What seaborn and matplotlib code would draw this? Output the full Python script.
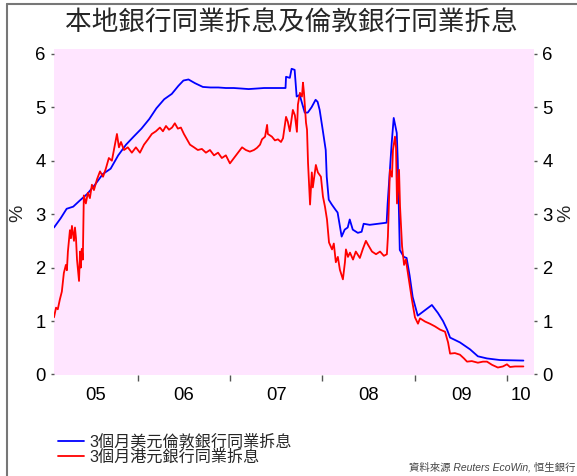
import pandas as pd
import matplotlib
matplotlib.use("Agg")
import matplotlib.pyplot as plt
import matplotlib.dates as mdates
from matplotlib.lines import Line2D
from matplotlib.ticker import FixedLocator, FixedFormatter, NullFormatter
import seaborn as sns

# 3-month USD LIBOR (%)
usd_dates = [
    "2005-02-03", "2005-03-01", "2005-03-25", "2005-04-20", "2005-05-15", "2005-06-15",
    "2005-07-15", "2005-08-15", "2005-09-15", "2005-10-15", "2005-11-15", "2005-12-15",
    "2006-01-15", "2006-02-15", "2006-03-15", "2006-04-15", "2006-05-15", "2006-06-10",
    "2006-06-30", "2006-07-20", "2006-08-15", "2006-09-15", "2006-10-15", "2006-11-15",
    "2006-12-15", "2007-01-15", "2007-02-15", "2007-03-15", "2007-04-15", "2007-05-15",
    "2007-06-15", "2007-07-15", "2007-08-08", "2007-08-10", "2007-08-25", "2007-09-01",
    "2007-09-13", "2007-09-21", "2007-10-03", "2007-10-23", "2007-11-04", "2007-11-19",
    "2007-12-05", "2007-12-13", "2007-12-21", "2008-01-02", "2008-01-14", "2008-01-18",
    "2008-01-26", "2008-02-07", "2008-02-22", "2008-03-01", "2008-03-17", "2008-03-29",
    "2008-04-10", "2008-04-18", "2008-04-30", "2008-05-20", "2008-06-04", "2008-06-12",
    "2008-07-06", "2008-09-11", "2008-09-15", "2008-10-01", "2008-10-09", "2008-10-21",
    "2008-10-25", "2008-11-02", "2008-11-18", "2008-11-29", "2008-12-11", "2008-12-23",
    "2009-01-12", "2009-02-09", "2009-03-09", "2009-04-02", "2009-04-22", "2009-05-08",
    "2009-05-20", "2009-06-28", "2009-08-07", "2009-09-07", "2009-10-13", "2009-12-03",
    "2010-03-06",
]
usd_rates = [
    2.75, 2.92, 3.10, 3.14, 3.25, 3.38,
    3.55, 3.75, 3.85, 4.10, 4.30, 4.45,
    4.60, 4.78, 4.98, 5.15, 5.25, 5.40,
    5.50, 5.52, 5.45, 5.38, 5.37, 5.37,
    5.36, 5.36, 5.35, 5.34, 5.35, 5.36,
    5.36, 5.36, 5.36, 5.57, 5.55, 5.72,
    5.70, 5.20, 5.23, 4.90, 4.90, 5.00,
    5.14, 5.10, 4.95, 4.58, 4.20, 3.70,
    3.27, 3.18, 3.08, 3.03, 2.58, 2.71,
    2.75, 2.90, 2.71, 2.65, 2.67, 2.82,
    2.80, 2.84, 3.20, 4.33, 4.80, 4.52,
    4.00, 2.33, 2.20, 2.18, 1.85, 1.45,
    1.10, 1.20, 1.30, 1.15, 1.00, 0.84,
    0.69, 0.60, 0.47, 0.34, 0.30, 0.27,
    0.26,
]

# 3-month HIBOR (%)
hkd_dates = [
    "2005-02-03", "2005-02-11", "2005-02-18", "2005-02-26", "2005-03-06", "2005-03-14",
    "2005-03-22", "2005-03-26", "2005-03-30", "2005-04-07", "2005-04-11", "2005-04-15",
    "2005-04-23", "2005-04-27", "2005-05-01", "2005-05-05", "2005-05-09", "2005-05-13",
    "2005-05-17", "2005-05-20", "2005-05-24", "2005-05-28", "2005-06-01", "2005-06-09",
    "2005-06-17", "2005-06-25", "2005-07-03", "2005-07-11", "2005-07-23", "2005-08-04",
    "2005-08-16", "2005-08-27", "2005-09-08", "2005-09-20", "2005-10-02", "2005-10-10",
    "2005-10-18", "2005-10-26", "2005-11-07", "2005-11-22", "2005-12-08", "2005-12-24",
    "2006-01-09", "2006-01-25", "2006-02-10", "2006-02-25", "2006-03-13", "2006-03-29",
    "2006-04-10", "2006-04-22", "2006-05-04", "2006-05-16", "2006-05-27", "2006-06-08",
    "2006-06-20", "2006-07-02", "2006-07-14", "2006-07-26", "2006-08-11", "2006-08-26",
    "2006-09-11", "2006-09-27", "2006-10-13", "2006-10-29", "2006-11-14", "2006-11-29",
    "2006-12-15", "2006-12-31", "2007-01-16", "2007-02-01", "2007-02-17", "2007-03-04",
    "2007-03-20", "2007-04-05", "2007-04-17", "2007-04-29", "2007-05-07", "2007-05-19",
    "2007-05-27", "2007-05-30", "2007-06-15", "2007-06-27", "2007-07-09", "2007-07-21",
    "2007-07-29", "2007-08-10", "2007-08-17", "2007-08-25", "2007-09-06", "2007-09-14",
    "2007-09-22", "2007-09-26", "2007-10-04", "2007-10-12", "2007-10-16", "2007-10-20",
    "2007-10-28", "2007-11-01", "2007-11-05", "2007-11-13", "2007-11-20", "2007-11-24",
    "2007-12-06", "2007-12-14", "2007-12-26", "2008-01-03", "2008-01-11", "2008-01-19",
    "2008-01-27", "2008-02-08", "2008-02-15", "2008-02-23", "2008-03-02", "2008-03-10",
    "2008-03-22", "2008-03-30", "2008-04-03", "2008-04-11", "2008-04-19", "2008-05-01",
    "2008-05-12", "2008-05-28", "2008-06-09", "2008-06-21", "2008-06-29", "2008-07-15",
    "2008-07-31", "2008-08-16", "2008-08-31", "2008-09-12", "2008-09-16", "2008-09-24",
    "2008-10-02", "2008-10-06", "2008-10-14", "2008-10-18", "2008-10-22", "2008-10-30",
    "2008-11-03", "2008-11-11", "2008-11-19", "2008-11-26", "2008-12-08", "2008-12-20",
    "2009-01-01", "2009-01-13", "2009-01-21", "2009-02-10", "2009-03-01", "2009-03-21",
    "2009-04-10", "2009-04-30", "2009-05-12", "2009-05-20", "2009-06-08", "2009-06-28",
    "2009-07-14", "2009-07-26", "2009-08-14", "2009-09-07", "2009-09-27", "2009-10-13",
    "2009-11-02", "2009-11-25", "2009-12-15", "2009-12-31", "2010-01-12", "2010-02-01",
    "2010-03-06",
]
hkd_rates = [
    1.07, 1.25, 1.22, 1.40, 1.55, 1.90,
    2.05, 1.95, 2.30, 2.70, 2.55, 2.78,
    2.50, 2.75, 2.55, 2.15, 1.95, 1.75,
    2.30, 2.00, 2.35, 2.15, 3.35, 3.20,
    3.40, 3.30, 3.55, 3.45, 3.65, 3.80,
    3.70, 3.85, 4.05, 4.00, 4.30, 4.50,
    4.25, 4.35, 4.20, 4.25, 4.15, 4.25,
    4.15, 4.30, 4.40, 4.50, 4.55, 4.62,
    4.55, 4.65, 4.58, 4.62, 4.70, 4.60,
    4.62, 4.50, 4.40, 4.30, 4.25, 4.20,
    4.22, 4.15, 4.20, 4.10, 4.15, 4.05,
    4.10, 3.95, 4.05, 4.15, 4.25, 4.20,
    4.17, 4.20, 4.24, 4.30, 4.40, 4.45,
    4.67, 4.50, 4.45, 4.38, 4.40, 4.35,
    4.42, 4.82, 4.73, 4.55, 4.95, 4.85,
    4.54, 5.05, 5.27, 5.20, 5.46, 5.27,
    4.71, 4.58, 3.96, 3.18, 3.78, 3.50,
    3.92, 3.78, 3.70, 3.33, 3.14, 2.90,
    2.47, 2.34, 2.45, 2.10, 2.20, 1.96,
    1.78, 2.10, 2.34, 2.20, 2.28, 2.15,
    2.30, 2.18, 2.35, 2.50, 2.43, 2.30,
    2.25, 2.30, 2.22, 2.25, 2.58, 3.83,
    3.70, 4.20, 4.45, 4.25, 3.20, 3.83,
    3.14, 2.40, 2.05, 2.15, 1.78, 1.40,
    1.07, 0.95, 1.05, 0.99, 0.95, 0.90,
    0.84, 0.80, 0.60, 0.39, 0.40, 0.37,
    0.30, 0.24, 0.25, 0.22, 0.24, 0.24,
    0.18, 0.13, 0.15, 0.19, 0.14, 0.15,
    0.15,
]

year_labels = ["05", "06", "07", "08", "09", "10"]
y_ticks = [0, 1, 2, 3, 4, 5, 6]
title_text = "本地銀行同業拆息及倫敦銀行同業拆息"
usd_label = "3個月美元倫敦銀行同業拆息"
hkd_label = "3個月港元銀行同業拆息"
source_text = "資料來源 Reuters EcoWin, 恒生銀行"

sns.set_theme(style="white")
plt.rcParams["font.family"] = ["Liberation Sans", "Noto Sans CJK TC", "DejaVu Sans"]

df = pd.concat([
    pd.DataFrame({"date": pd.to_datetime(usd_dates), "rate": usd_rates, "series": usd_label}),
    pd.DataFrame({"date": pd.to_datetime(hkd_dates), "rate": hkd_rates, "series": hkd_label}),
], ignore_index=True)

W, H = 577, 476
fig = plt.figure(figsize=(W / 100, H / 100), dpi=100)
fig.patch.set_facecolor("white")

left, right, top, bottom = 54, 534, 49, 375
ax = fig.add_axes([left / W, 1 - bottom / H, (right - left) / W, (bottom - top) / H])
ax.set_facecolor("#FFE5FF")

colors = {usd_label: "#0000FF", hkd_label: "#FF0000"}
sns.lineplot(data=df, x="date", y="rate", hue="series", palette=colors,
             estimator=None, sort=False, linewidth=1.3, legend=False, ax=ax)

xmin, xmax = pd.Timestamp("2005-02-03"), pd.Timestamp("2010-04-17")
ax.set_xlim(xmin, xmax)
ax.set_ylim(-0.01, 6.09)
for s in ax.spines.values():
    s.set_visible(False)
ax.set_xlabel("")
ax.set_ylabel("")

# year boundaries as tick marks, year labels centred on the visible part of each year
ax.xaxis.set_major_locator(mdates.YearLocator())
ax.xaxis.set_major_formatter(NullFormatter())
mids = []
for yr in range(2005, 2011):
    a = max(pd.Timestamp(f"{yr}-01-01"), xmin)
    b = min(pd.Timestamp(f"{yr + 1}-01-01"), xmax)
    mids.append(mdates.date2num(a + (b - a) / 2))
ax.xaxis.set_minor_locator(FixedLocator(mids))
ax.xaxis.set_minor_formatter(FixedFormatter(year_labels))
ax.tick_params(axis="x", which="major", bottom=True, length=4, width=1, color="#555555", direction="out")
ax.tick_params(axis="x", which="minor", bottom=True, length=0, pad=9, labelsize=13.3, labelcolor="black")

ax.set_yticks(y_ticks)
ax.set_yticklabels([str(v) for v in y_ticks])
ax.tick_params(axis="y", left=True, right=True, labelleft=True, labelright=True,
               length=2, width=1, color="#555555", direction="out", pad=4,
               labelsize=13.3, labelcolor="black")
ax.grid(False)

fig.text(18 / W, 1 - 213 / H, "%", rotation=90, ha="center", va="center", fontsize=14)
fig.text(566 / W, 1 - 213 / H, "%", rotation=90, ha="center", va="center", fontsize=14)

fig.text(291 / W, 1 - 22 / H, title_text, ha="center", va="center", fontsize=19.2,
         family=["Noto Sans CJK TC", "DejaVu Sans"])

handles = [Line2D([], [], color=colors[usd_label], lw=1.3),
           Line2D([], [], color=colors[hkd_label], lw=1.3)]
fig.legend(handles, [usd_label, hkd_label], loc="upper left",
           bbox_to_anchor=(50 / W, 1 - 426 / H), frameon=False, fontsize=11.6,
           handlelength=1.6, handletextpad=0.35, labelspacing=0.0, borderpad=0)

fig.text(575 / W, 1 - 467 / H, source_text, ha="right", va="center", fontsize=7.5,
         style="italic", color="#444444")

# frame lines along the top and left edge
fig.add_artist(Line2D([7 / W, 1.0], [1 - 4 / H, 1 - 4 / H], transform=fig.transFigure,
                      color="#777777", lw=1.5))
fig.add_artist(Line2D([7 / W, 7 / W], [0.0, 1 - 4 / H], transform=fig.transFigure,
                      color="#777777", lw=1.5))

fig.savefig("out.png", dpi=100)
